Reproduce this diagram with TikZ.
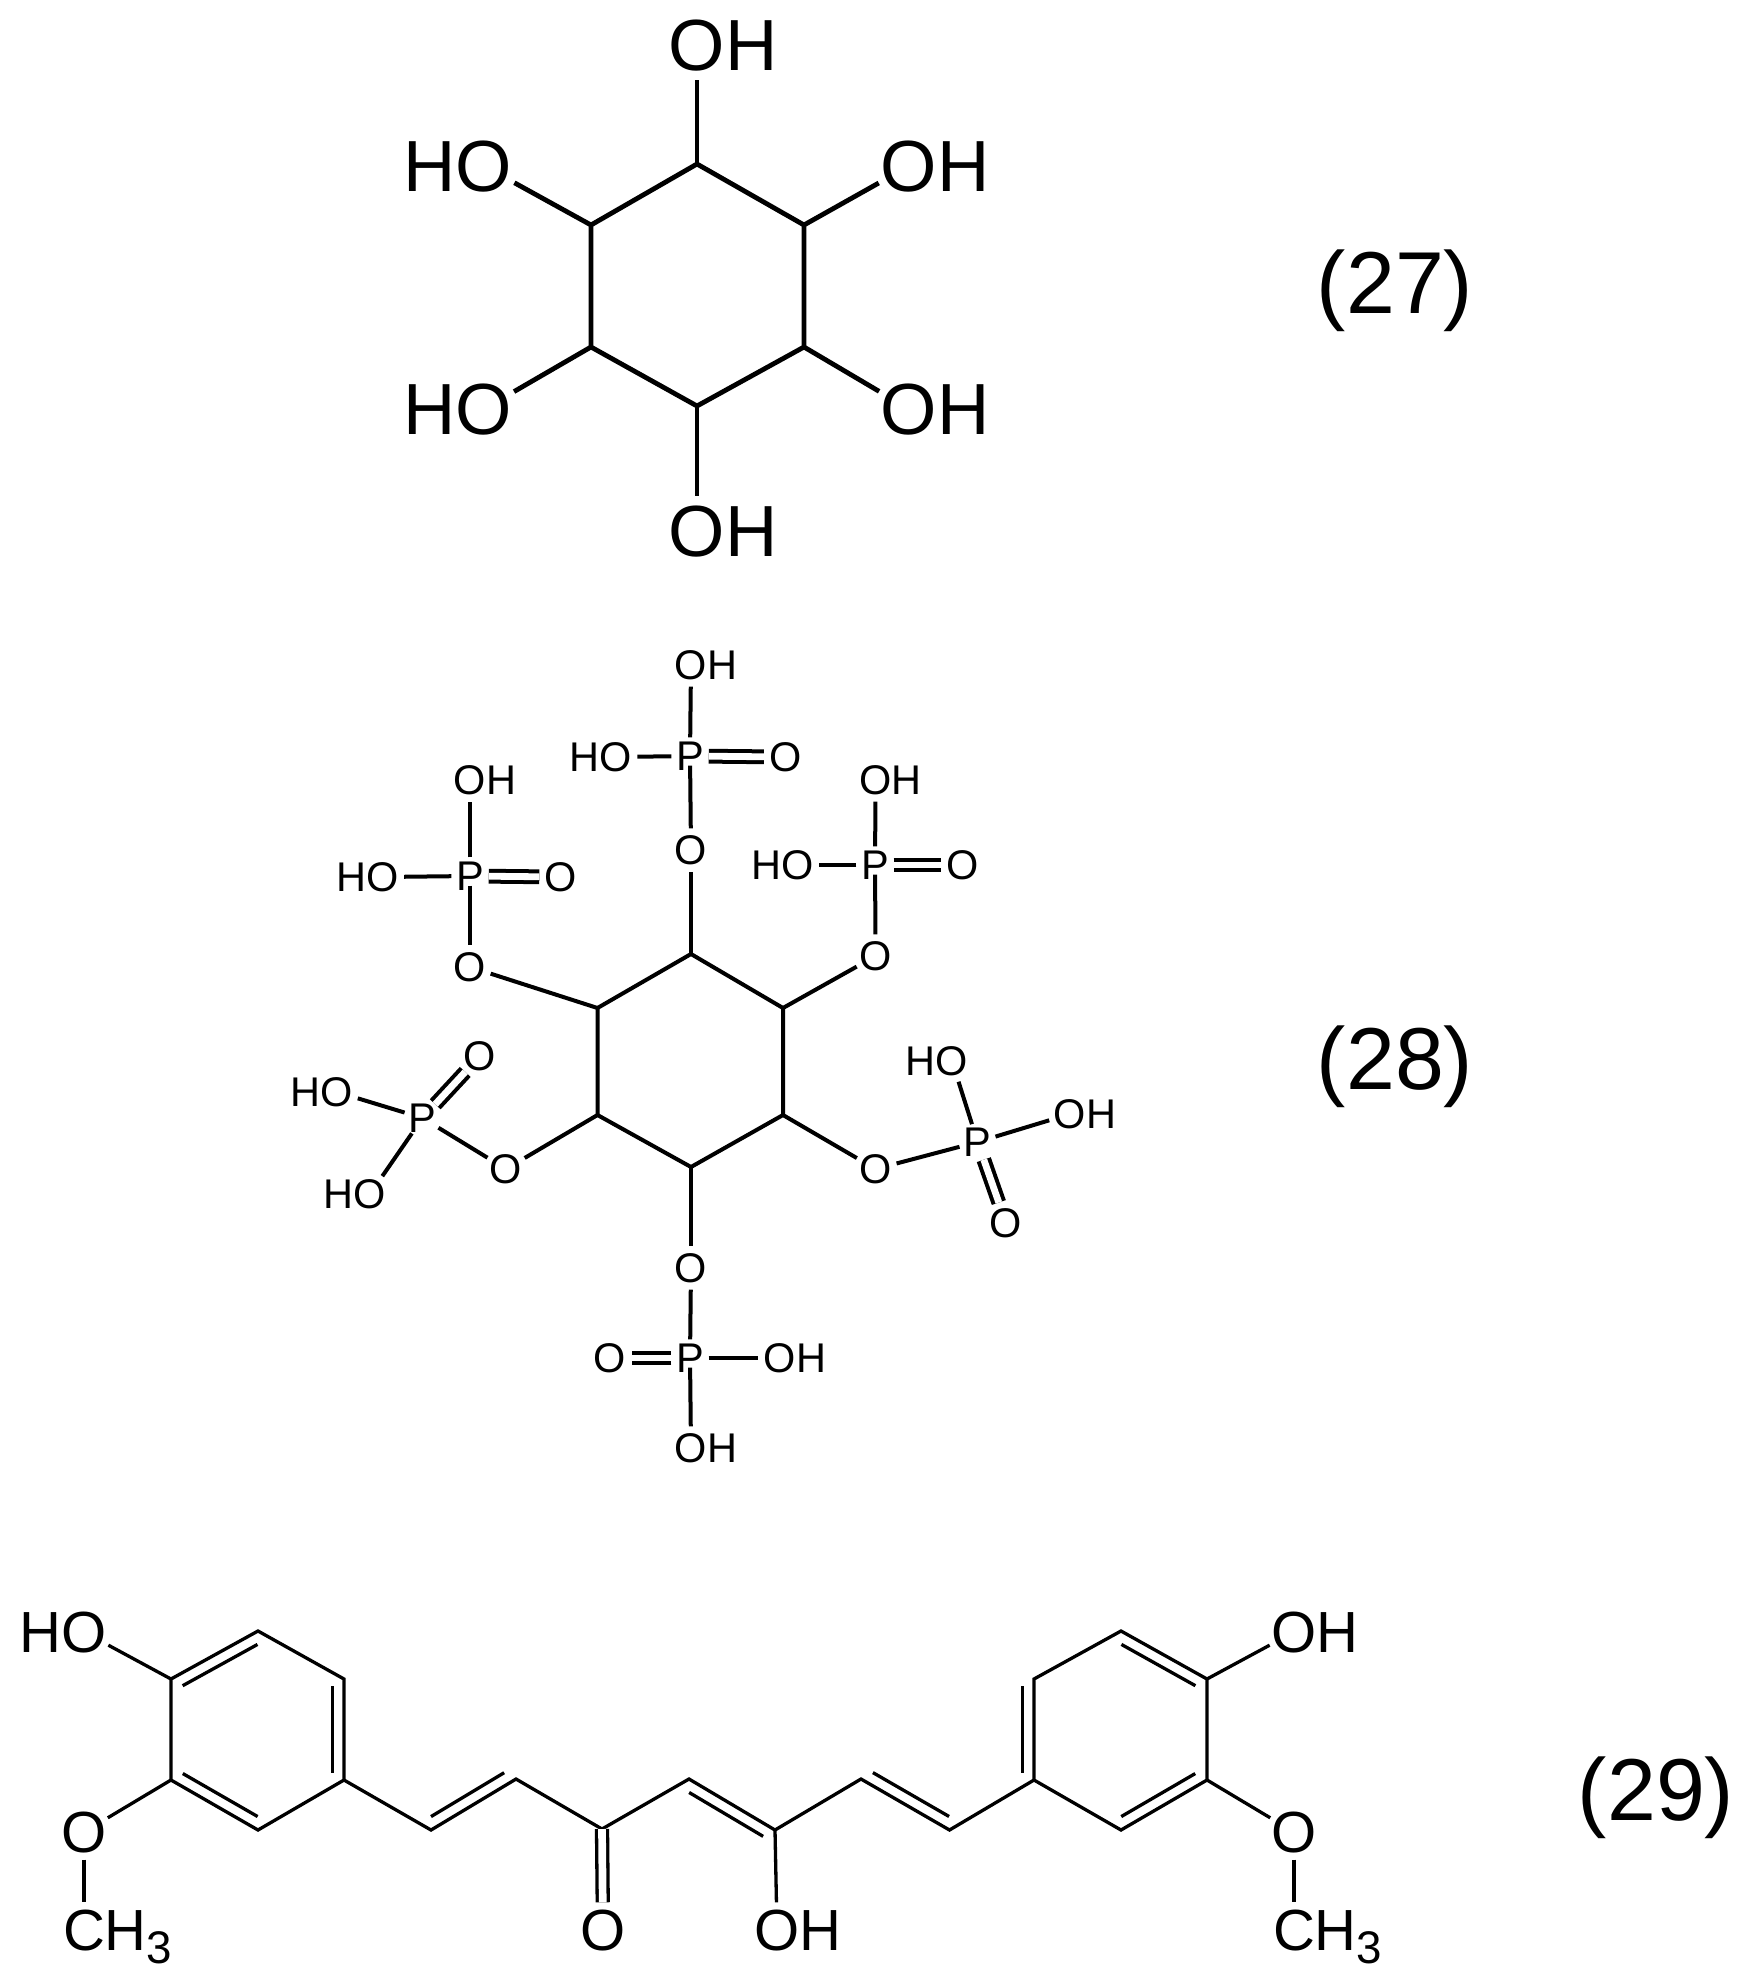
\documentclass[tikz,border=0pt]{standalone}
\usepackage{fontspec}
\setmainfont{Liberation Sans}
\usepackage{tikz}
\newcommand{\atomtext}[1]{\raisebox{-.358em}[0pt][0pt]{#1}}
\newcommand{\single}[1]{\atomtext{\makebox[0pt]{#1}}}
\newcommand{\oh}{\atomtext{\makebox[0pt][l]{\hspace{-.389em}OH}}}
\newcommand{\ho}{\atomtext{\makebox[0pt][r]{HO\hspace{-.389em}}}}
\newcommand{\chthree}{\atomtext{\makebox[0pt][l]{\hspace{-.361em}CH\raisebox{-.22em}{\fontsize{13}{13}\selectfont 3}}}}
\newcommand{\inner}[3]{\draw[bondc] ($(#1)!.07!(#2)!.115cm!#3:(#2)$) -- ($(#2)!.07!(#1)!.115cm!-#3:(#1)$);}
\usetikzlibrary{calc}

\begin{document}
\begin{tikzpicture}[x=.01cm,y=-.01cm,
    every node/.style={circle,inner sep=0pt,text=black},
    atoma/.style={minimum size=.68cm,font=\fontsize{20.6}{21}\selectfont},
    atomb/.style={minimum size=.42cm,font=\fontsize{11.8}{12}\selectfont},
    atomp/.style={minimum size=.36cm,font=\fontsize{11.8}{12}\selectfont},
    atomc/.style={minimum size=.54cm,font=\fontsize{16.5}{16.5}\selectfont},
    number/.style={anchor=base,font=\fontsize{25}{25}\selectfont},
    bonda/.style={line width=.048cm},
    bondb/.style={line width=.04cm},
    bondc/.style={line width=.033cm},
    doubleb/.style={bondb,double,double distance=.068cm},
    doublec/.style={bondc,double,double distance=.077cm},
    stem/.style={shorten <=-.09cm}]
  \useasboundingbox (0,0) rectangle (1759,1988);

  \coordinate (a1) at (697,164);
  \coordinate (a2) at (804,225);
  \coordinate (a3) at (804,347);
  \coordinate (a4) at (697,406);
  \coordinate (a5) at (591,347);
  \coordinate (a6) at (591,225);
  \node[atoma] (oa1) at (697,45) {\oh};
  \node[atoma] (oa2) at (909,166) {\oh};
  \node[atoma] (oa3) at (909,409) {\oh};
  \node[atoma] (oa4) at (697,531) {\oh};
  \node[atoma] (oa5) at (484,409) {\ho};
  \node[atoma] (oa6) at (484,166) {\ho};
  \node[number] (n27) at (1395,313) {(27)};
  \draw[bonda] (a1) -- (a2) -- (a3) -- (a4) -- (a5) -- (a6) -- cycle;
  \draw[bonda] (a1) -- (oa1);
  \draw[bonda] (a2) -- (oa2);
  \draw[bonda] (a3) -- (oa3);
  \draw[bonda] (a4) -- (oa4);
  \draw[bonda] (a5) -- (oa5);
  \draw[bonda] (a6) -- (oa6);

  \coordinate (b1) at (691,954);
  \coordinate (b2) at (783,1008);
  \coordinate (b3) at (783,1115);
  \coordinate (b4) at (691,1167);
  \coordinate (b5) at (597.5,1115);
  \coordinate (b6) at (597.5,1008);
  \node[number] (n28) at (1395,1089) {(28)};
  \draw[bondb] (b1) -- (b2) -- (b3) -- (b4) -- (b5) -- (b6) -- cycle;

  \node[atomb] (ob1) at (691,850) {\single{O}};
  \node[atomp] (pb1) at (690,756) {\single{P}};
  \node[atomb] (hb1) at (691,665) {\oh};
  \node[atomb] (kb1) at (615.6,757) {\ho};
  \node[atomb] (db1) at (785.6,757) {\single{O}};
  \draw[bondb] (b1) -- (ob1);
  \draw[bondb,stem] (pb1) -- (ob1);
  \draw[bondb] (pb1) -- (hb1);
  \draw[bondb] (pb1) -- (kb1);
  \draw[doubleb] (pb1) -- (db1);

  \node[atomb] (ob2) at (875.6,956) {\single{O}};
  \node[atomp] (pb2) at (875,865) {\single{P}};
  \node[atomb] (hb2) at (875.6,780) {\oh};
  \node[atomb] (kb2) at (797.7,865) {\ho};
  \node[atomb] (db2) at (963,865) {\single{O}};
  \draw[bondb] (b2) -- (ob2);
  \draw[bondb,stem] (pb2) -- (ob2);
  \draw[bondb] (pb2) -- (hb2);
  \draw[bondb] (pb2) -- (kb2);
  \draw[doubleb] (pb2) -- (db2);

  \node[atomb] (ob3) at (875.6,1169) {\single{O}};
  \node[atomp] (pb3) at (977.6,1142) {\single{P}};
  \node[atomb] (hb3) at (1070,1114) {\oh};
  \node[atomb] (kb3) at (952,1061) {\ho};
  \node[atomb] (db3) at (1006,1223) {\single{O}};
  \draw[bondb] (b3) -- (ob3);
  \draw[bondb] (pb3) -- (ob3);
  \draw[bondb] (pb3) -- (hb3);
  \draw[bondb] (pb3) -- (kb3);
  \draw[doubleb] (pb3) -- (db3);

  \node[atomb] (ob4) at (691,1268) {\single{O}};
  \node[atomp] (pb4) at (690,1358) {\single{P}};
  \node[atomb] (hb4) at (780,1358) {\oh};
  \node[atomb] (kb4) at (691,1448) {\oh};
  \node[atomb] (db4) at (610,1358) {\single{O}};
  \draw[bondb] (b4) -- (ob4);
  \draw[bondb] (pb4) -- (ob4);
  \draw[bondb] (pb4) -- (hb4);
  \draw[bondb,stem] (pb4) -- (kb4);
  \draw[doubleb] (pb4) -- (db4);

  \node[atomb] (ob5) at (506,1169) {\single{O}};
  \node[atomp] (pb5) at (422.5,1118) {\single{P}};
  \node[atomb] (hb5) at (337,1092) {\ho};
  \node[atomb] (kb5) at (370,1194) {\ho};
  \node[atomb] (db5) at (480,1056) {\single{O}};
  \draw[bondb] (b5) -- (ob5);
  \draw[bondb] (pb5) -- (ob5);
  \draw[bondb] (pb5) -- (hb5);
  \draw[bondb] (pb5) -- (kb5);
  \draw[doubleb] (pb5) -- (db5);

  \node[atomb] (ob6) at (470,967) {\single{O}};
  \node[atomp] (pb6) at (470,876) {\single{P}};
  \node[atomb] (hb6) at (470,780) {\oh};
  \node[atomb] (kb6) at (382.5,877) {\ho};
  \node[atomb] (db6) at (561,877) {\single{O}};
  \draw[bondb] (b6) -- (ob6);
  \draw[bondb,stem] (pb6) -- (ob6);
  \draw[bondb] (pb6) -- (hb6);
  \draw[bondb] (pb6) -- (kb6);
  \draw[doubleb] (pb6) -- (db6);

  \coordinate (c1) at (258,1631);
  \coordinate (c2) at (344,1679);
  \coordinate (c3) at (344,1780);
  \coordinate (c4) at (258,1830);
  \coordinate (c5) at (171,1780);
  \coordinate (c6) at (171,1679);
  \coordinate (d1) at (431,1830);
  \coordinate (d2) at (516,1779);
  \coordinate (d3) at (602,1829);
  \coordinate (d4) at (689,1779);
  \coordinate (d5) at (775,1830);
  \coordinate (d6) at (861,1779);
  \coordinate (d7) at (949.5,1830);
  \coordinate (e1) at (1121,1631);
  \coordinate (e2) at (1207,1679);
  \coordinate (e3) at (1207,1780);
  \coordinate (e4) at (1121,1830);
  \coordinate (e5) at (1034,1780);
  \coordinate (e6) at (1034,1679);
  \node[atomc] (oc1) at (84,1632) {\ho};
  \node[atomc] (oc2) at (84,1832) {\single{O}};
  \node[atomc] (mc1) at (84,1930) {\chthree};
  \node[atomc] (oc3) at (603,1930) {\single{O}};
  \node[atomc] (oc4) at (777,1930) {\oh};
  \node[atomc] (oc5) at (1294,1632) {\oh};
  \node[atomc] (oc6) at (1294,1832) {\single{O}};
  \node[atomc] (mc2) at (1294,1930) {\chthree};
  \node[number] (n29) at (1656,1820) {(29)};
  \draw[bondc] (c1) -- (c2) -- (c3) -- (c4) -- (c5) -- (c6) -- cycle;
  \draw[bondc] (e1) -- (e2) -- (e3) -- (e4) -- (e5) -- (e6) -- cycle;
  \draw[bondc] (c3) -- (d1) -- (d2) -- (d3) -- (d4) -- (d5) -- (d6) -- (d7) -- (e5);
  \draw[bondc] (c6) -- (oc1);
  \draw[bondc] (c5) -- (oc2);
  \draw[bondc] (oc2) -- (mc1);
  \draw[doublec] (d3) -- (oc3);
  \draw[bondc] (d5) -- (oc4);
  \draw[bondc] (e2) -- (oc5);
  \draw[bondc] (e3) -- (oc6);
  \draw[bondc] (oc6) -- (mc2);
  \inner{c6}{c1}{-90}
  \inner{c2}{c3}{-90}
  \inner{c5}{c4}{90}
  \inner{d1}{d2}{90}
  \inner{d4}{d5}{-90}
  \inner{d6}{d7}{90}
  \inner{e6}{e5}{-90}
  \inner{e1}{e2}{-90}
  \inner{e3}{e4}{-90}
\end{tikzpicture}
\end{document}
